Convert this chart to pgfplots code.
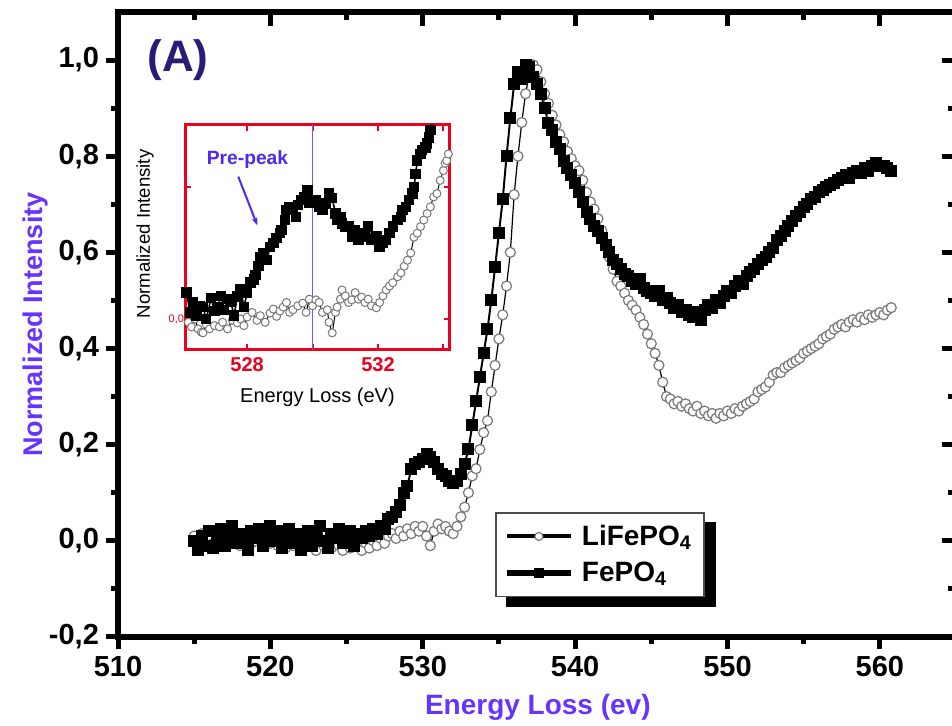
\documentclass[border=0pt]{standalone}
\usepackage{fontspec}
\setmainfont{Liberation Sans}
\usepackage{pgfplots}
\pgfplotsset{compat=1.18}
\usetikzlibrary{arrows.meta}
\pgfdeclarelayer{background}
\pgfsetlayers{background,main}

\definecolor{labelblue}{RGB}{102,51,255}
\definecolor{prepeak}{RGB}{80,40,240}
\definecolor{navyA}{RGB}{40,28,120}
\definecolor{insetred}{RGB}{235,0,30}
\definecolor{vline}{RGB}{110,90,250}
\definecolor{circgray}{RGB}{120,120,120}

\begin{document}
\begin{tikzpicture}
% main panel
\begin{axis}[
    at={(59pt,44.5pt)}, anchor=south west,
    scale only axis, width=419pt, height=312.5pt,
    xmin=510, xmax=565, ymin=-0.2, ymax=1.1,
    xtick={510,520,...,560}, minor x tick num=1,
    ytick={-0.2,0,...,1.0}, minor y tick num=1,
    xtick pos=left, ytick pos=left,
    tick align=outside,
    major tick length=6pt, minor tick length=3.5pt,
    every tick/.style={black, line width=2.5pt},
    axis line style={line width=3pt},
    tick label style={font=\bfseries\fontsize{14.5}{16}\selectfont, /pgf/number format/assume math mode=true},
    xticklabel style={/pgf/number format/.cd, fixed, precision=0, 1000 sep={}},
    yticklabel style={/pgf/number format/.cd, use comma, fixed, fixed zerofill, precision=1},
    xlabel={Energy Loss (ev)},
    ylabel={Normalized Intensity},
    xlabel style={at={(axis description cs:0.501,-0.112)}, anchor=center, text=labelblue, font=\bfseries\fontsize{14}{16}\selectfont},
    ylabel style={at={(axis description cs:-0.099,0.5)}, anchor=center, rotate=0, text=labelblue, font=\bfseries\fontsize{13.5}{16}\selectfont},
    legend style={name=leg, at={(0.45,0.2)}, anchor=north west, draw=black!70, line width=0.8pt, fill=white,
        font=\bfseries\fontsize{14}{16}\selectfont, inner xsep=4pt, inner ysep=4pt, row sep=3pt, column sep=2pt},
    legend cell align=left,
    legend image code/.code={
        \draw[#1, mark=none] (0pt,0pt) -- (32pt,0pt);
        \path[#1, draw=none] plot coordinates {(16pt,0pt)};},
]
\addlegendimage{black, line width=2pt, mark=*, mark size=2pt, mark options={fill=white, draw=circgray, line width=0.6pt}}
\addlegendentry{LiFePO\textsubscript{4}}
\addlegendimage{black, line width=3pt, mark=square*, mark size=2.2pt, mark options={fill=black, draw=black, line width=0.5pt}}
\addlegendentry{FePO\textsubscript{4}}

% LiFePO4
\addplot[forget plot, black, line width=0.6pt, mark=*, mark size=2.5pt, mark options={fill=white, draw=circgray, line width=0.6pt}] coordinates {
(515.0,0.01) (515.25,-0.01) (515.5,0.015) (515.75,0.0) (516.0,0.01) (516.25,-0.005) (516.5,0.005) (516.75,-0.01)
(517.0,0.01) (517.25,0.0) (517.5,-0.005) (517.75,0.01) (518.0,-0.01) (518.25,0.005) (518.5,0.015) (518.75,-0.005)
(519.0,0.0) (519.25,0.01) (519.5,-0.01) (519.75,0.005) (520.0,-0.005) (520.25,0.01) (520.5,-0.01) (520.75,0.0)
(521.0,-0.015) (521.25,0.005) (521.5,-0.01) (521.75,0.0) (522.0,-0.015) (522.25,-0.005) (522.5,0.005) (522.75,-0.01)
(523.0,-0.02) (523.25,0.0) (523.5,-0.01) (523.75,-0.005) (524.0,-0.015) (524.25,0.0) (524.5,-0.01) (524.75,-0.02)
(525.0,-0.005) (525.25,-0.015) (525.5,0.0) (525.75,-0.01) (526.0,-0.02) (526.25,-0.005) (526.5,-0.015) (526.75,0.0)
(527.0,-0.01) (527.25,0.005) (527.5,-0.005) (527.75,0.01) (528.0,0.015) (528.25,0.005) (528.5,0.02) (528.75,0.01)
(529.0,0.025) (529.25,0.015) (529.5,0.03) (529.75,0.02) (530.0,0.03) (530.25,0.01) (530.5,-0.01) (530.75,0.02)
(531.0,0.035) (531.25,0.025) (531.5,0.03) (531.75,0.02) (532.0,0.015) (532.25,0.03) (532.5,0.05) (532.75,0.07)
(533.0,0.10) (533.25,0.135) (533.5,0.15) (533.75,0.19) (534.0,0.225) (534.25,0.25) (534.5,0.31) (534.75,0.365)
(535.0,0.42) (535.25,0.47) (535.5,0.53) (535.75,0.60) (536.0,0.72) (536.25,0.80) (536.5,0.87) (536.75,0.93)
(537.0,0.97) (537.25,0.99) (537.5,0.98) (537.75,0.955) (538.0,0.93) (538.25,0.91) (538.5,0.885) (538.75,0.865)
(539.0,0.845) (539.25,0.83) (539.5,0.81) (539.75,0.795) (540.0,0.78) (540.25,0.77) (540.5,0.75) (540.75,0.725)
(541.0,0.705) (541.25,0.69) (541.5,0.67) (541.75,0.645) (542.0,0.615) (542.25,0.59) (542.5,0.565) (542.75,0.54)
(543.0,0.53) (543.25,0.515) (543.5,0.50) (543.75,0.49) (544.0,0.48) (544.25,0.465) (544.5,0.45) (544.75,0.43)
(545.0,0.41) (545.25,0.39) (545.5,0.365) (545.75,0.33) (546.0,0.30) (546.25,0.295) (546.5,0.285) (546.75,0.29)
(547.0,0.28) (547.25,0.285) (547.5,0.275) (547.75,0.27) (548.0,0.28) (548.25,0.265) (548.5,0.27) (548.75,0.26)
(549.0,0.265) (549.25,0.255) (549.5,0.265) (549.75,0.26) (550.0,0.27) (550.25,0.265) (550.5,0.275) (550.75,0.27)
(551.0,0.28) (551.25,0.285) (551.5,0.29) (551.75,0.295) (552.0,0.31) (552.25,0.315) (552.5,0.32) (552.75,0.33)
(553.0,0.345) (553.25,0.35) (553.5,0.35) (553.75,0.36) (554.0,0.365) (554.25,0.37) (554.5,0.375) (554.75,0.38)
(555.0,0.39) (555.25,0.395) (555.5,0.40) (555.75,0.405) (556.0,0.41) (556.25,0.42) (556.5,0.425) (556.75,0.43)
(557.0,0.44) (557.25,0.445) (557.5,0.45) (557.75,0.445) (558.0,0.455) (558.25,0.46) (558.5,0.455) (558.75,0.465)
(559.0,0.46) (559.25,0.47) (559.5,0.465) (559.75,0.47) (560.0,0.475) (560.25,0.47) (560.5,0.48) (560.75,0.485)
};

% FePO4
\addplot[forget plot, black, line width=1pt, mark=square*, mark size=2.5pt, mark options={fill=black, draw=black}] coordinates {
(515.0,0.00) (515.25,-0.02) (515.5,0.01) (515.75,-0.01) (516.0,0.02) (516.25,-0.015) (516.5,0.005) (516.75,0.025)
(517.0,-0.01) (517.25,0.01) (517.5,0.03) (517.75,-0.005) (518.0,0.015) (518.25,0.0) (518.5,-0.02) (518.75,0.02)
(519.0,0.005) (519.25,0.025) (519.5,-0.01) (519.75,0.01) (520.0,0.03) (520.25,0.0) (520.5,0.02) (520.75,-0.015)
(521.0,0.01) (521.25,0.025) (521.5,-0.005) (521.75,0.015) (522.0,-0.02) (522.25,0.005) (522.5,0.02) (522.75,-0.01)
(523.0,0.01) (523.25,0.03) (523.5,0.0) (523.75,-0.015) (524.0,0.015) (524.25,0.005) (524.5,0.025) (524.75,-0.005)
(525.0,0.01) (525.25,0.02) (525.5,-0.01) (525.75,0.015) (526.0,0.005) (526.25,0.02) (526.5,0.01) (526.75,0.025)
(527.0,0.015) (527.25,0.03) (527.5,0.025) (527.75,0.045) (528.0,0.05) (528.25,0.06) (528.5,0.075) (528.75,0.10)
(529.0,0.115) (529.25,0.15) (529.5,0.16) (529.75,0.165) (530.0,0.17) (530.25,0.18) (530.5,0.175) (530.75,0.165)
(531.0,0.15) (531.25,0.14) (531.5,0.135) (531.75,0.125) (532.0,0.12) (532.25,0.125) (532.5,0.14) (532.75,0.16)
(533.0,0.19) (533.25,0.24) (533.5,0.29) (533.75,0.34) (534.0,0.39) (534.25,0.44) (534.5,0.50) (534.75,0.57)
(535.0,0.64) (535.25,0.71) (535.5,0.80) (535.75,0.88) (536.0,0.95) (536.25,0.975) (536.5,0.96) (536.75,0.99)
(537.0,0.985) (537.25,0.965) (537.5,0.95) (537.75,0.93) (538.0,0.90) (538.25,0.87) (538.5,0.855) (538.75,0.83)
(539.0,0.815) (539.25,0.79) (539.5,0.775) (539.75,0.76) (540.0,0.745) (540.25,0.725) (540.5,0.705) (540.75,0.685)
(541.0,0.67) (541.25,0.655) (541.5,0.645) (541.75,0.63) (542.0,0.615) (542.25,0.60) (542.5,0.585) (542.75,0.575)
(543.0,0.565) (543.25,0.555) (543.5,0.55) (543.75,0.54) (544.0,0.535) (544.25,0.545) (544.5,0.525) (544.75,0.52)
(545.0,0.515) (545.25,0.51) (545.5,0.52) (545.75,0.50) (546.0,0.505) (546.25,0.495) (546.5,0.485) (546.75,0.49)
(547.0,0.475) (547.25,0.48) (547.5,0.47) (547.75,0.465) (548.0,0.475) (548.25,0.46) (548.5,0.48) (548.75,0.49)
(549.0,0.485) (549.25,0.50) (549.5,0.495) (549.75,0.51) (550.0,0.52) (550.25,0.515) (550.5,0.53) (550.75,0.54)
(551.0,0.535) (551.25,0.55) (551.5,0.56) (551.75,0.565) (552.0,0.575) (552.25,0.585) (552.5,0.59) (552.75,0.60)
(553.0,0.61) (553.25,0.625) (553.5,0.635) (553.75,0.645) (554.0,0.655) (554.25,0.665) (554.5,0.675) (554.75,0.685)
(555.0,0.695) (555.25,0.70) (555.5,0.71) (555.75,0.715) (556.0,0.725) (556.25,0.73) (556.5,0.735) (556.75,0.74)
(557.0,0.745) (557.25,0.75) (557.5,0.755) (557.75,0.76) (558.0,0.755) (558.25,0.765) (558.5,0.77) (558.75,0.765)
(559.0,0.775) (559.25,0.77) (559.5,0.78) (559.75,0.785) (560.0,0.78) (560.25,0.78) (560.5,0.775) (560.75,0.77)
};

\node[font=\bfseries\fontsize{22}{24}\selectfont, text=navyA] at (axis description cs:0.0716,0.923) {(A)};
\end{axis}

% legend shadow, behind everything
\begin{pgfonlayer}{background}
\fill[black] ([shift={(5.5pt,-5pt)}]leg.south west) rectangle ([shift={(5.5pt,-5pt)}]leg.north east);
\end{pgfonlayer}

% inward ticks on top and right
\begin{axis}[
    at={(59pt,44.5pt)}, anchor=south west,
    scale only axis, width=419pt, height=312.5pt,
    xmin=510, xmax=565, ymin=-0.2, ymax=1.1,
    xtick={510,520,...,560}, minor x tick num=1,
    ytick={-0.2,0,...,1.0}, minor y tick num=1,
    xtick pos=right, ytick pos=right,
    tick align=inside,
    major tick length=7pt, minor tick length=4pt,
    every tick/.style={black, line width=2.5pt},
    axis line style={line width=3pt},
    xticklabels={}, yticklabels={},
]
\end{axis}

% inset
\begin{axis}[
    at={(92.5pt,188pt)}, anchor=south west,
    scale only axis, width=132.5pt, height=112.5pt,
    xmin=526.1, xmax=534.2, ymin=-0.047, ymax=0.294,
    axis background/.style={fill=white},
    axis line style={insetred, line width=1.5pt},
    xtick={528,530,532,534}, xticklabels={528,,532,},
    ytick={0,0.2}, yticklabels={0{,}0,},
    tick align=inside, major tick length=3pt,
    every tick/.style={insetred, line width=1pt},
    xtick pos=both, ytick pos=both,
    xticklabel style={text=insetred, font=\bfseries\fontsize{10}{12}\selectfont},
    yticklabel style={text=insetred, font=\fontsize{5.5}{6}\selectfont, xshift=3pt},
    xlabel={Energy Loss (eV)},
    ylabel={Normalized Intensity},
    xlabel style={at={(axis description cs:0.5,-0.209)}, anchor=center, font=\fontsize{10}{12}\selectfont},
    ylabel style={at={(axis description cs:-0.151,0.516)}, anchor=center, rotate=0, font=\fontsize{9.3}{11}\selectfont},
]
\addplot[black, line width=0.5pt, mark=*, mark size=2pt, mark options={fill=white, draw=circgray, line width=0.5pt}] coordinates {
(526.2,-0.005) (526.3,-0.012) (526.4,0.0) (526.5,-0.015) (526.6,-0.02) (526.65,-0.021) (526.75,-0.008) (526.85,-0.015)
(527.0,-0.01) (527.15,-0.012) (527.25,-0.005) (527.4,-0.015) (527.55,-0.002) (527.7,-0.006) (527.8,0.0) (527.9,-0.01)
(528.0,0.003) (528.15,0.01) (528.3,-0.002) (528.4,0.005) (528.55,-0.005) (528.7,0.009) (528.8,0.015) (528.9,0.004)
(529.0,0.012) (529.1,0.018) (529.2,0.025) (529.3,0.01) (529.4,0.014) (529.55,0.02) (529.7,0.024) (529.8,0.01)
(529.9,0.03) (530.0,0.02) (530.1,0.029) (530.2,0.025) (530.3,0.01) (530.45,0.014) (530.5,-0.005) (530.6,-0.021)
(530.7,0.01) (530.75,0.018) (530.85,0.03) (530.9,0.044) (531.0,0.035) (531.1,0.025) (531.2,0.029) (531.3,0.04)
(531.4,0.03) (531.5,0.033) (531.6,0.025) (531.7,0.03) (531.8,0.02) (531.95,0.017) (532.05,0.025) (532.15,0.035)
(532.25,0.044) (532.35,0.05) (532.45,0.055) (532.6,0.064) (532.7,0.07) (532.8,0.08) (532.9,0.089) (533.0,0.1)
(533.1,0.124) (533.2,0.13) (533.3,0.14) (533.4,0.15) (533.5,0.16) (533.6,0.17) (533.7,0.185) (533.8,0.19)
(533.9,0.21) (534.0,0.225) (534.05,0.236) (534.1,0.24) (534.15,0.25)
};
\addplot[black, line width=0.8pt, mark=square*, mark size=2.2pt, mark options={fill=black, draw=black}] coordinates {
(526.15,0.04) (526.25,0.01) (526.35,0.025) (526.45,0.005) (526.55,0.02) (526.65,0.018) (526.75,0.0) (526.9,0.032)
(527.0,0.012) (527.1,0.018) (527.2,0.035) (527.3,0.014) (527.4,0.03) (527.5,0.026) (527.6,0.005) (527.7,0.034)
(527.8,0.045) (527.9,0.018) (528.0,0.04) (528.1,0.055) (528.2,0.06) (528.25,0.067) (528.35,0.08) (528.4,0.094)
(528.5,0.1) (528.6,0.089) (528.7,0.109) (528.8,0.115) (528.9,0.123) (529.0,0.13) (529.05,0.135) (529.15,0.15)
(529.2,0.165) (529.3,0.17) (529.4,0.165) (529.5,0.155) (529.55,0.173) (529.65,0.18) (529.75,0.185) (529.85,0.195)
(529.9,0.176) (530.0,0.178) (530.1,0.18) (530.2,0.17) (530.3,0.165) (530.4,0.175) (530.5,0.19) (530.6,0.183)
(530.7,0.16) (530.75,0.15) (530.85,0.155) (530.9,0.145) (531.0,0.14) (531.1,0.14) (531.2,0.125) (531.3,0.135)
(531.4,0.12) (531.5,0.13) (531.6,0.125) (531.7,0.14) (531.8,0.12) (531.95,0.125) (532.05,0.11) (532.15,0.115)
(532.25,0.12) (532.35,0.13) (532.45,0.14) (532.6,0.15) (532.7,0.155) (532.75,0.165) (532.85,0.17) (532.95,0.18)
(533.05,0.19) (533.1,0.2) (533.15,0.22) (533.2,0.24) (533.3,0.25) (533.35,0.256) (533.45,0.26) (533.5,0.266)
(533.55,0.275) (533.6,0.286) (533.65,0.297)
};
\draw[vline, line width=0.6pt] (axis cs:530,-0.047) -- (axis cs:530,0.294);
\node[text=prepeak, font=\bfseries\fontsize{9.6}{11}\selectfont] at (axis cs:528.01,0.241) {Pre-peak};
\draw[prepeak, line width=1pt, -{Stealth[length=4pt,width=3pt]}] (axis cs:527.73,0.2156) -- (axis cs:528.31,0.142);
\end{axis}

\pgfresetboundingbox
\useasboundingbox (0pt,0pt) rectangle (476pt,363pt);
\end{tikzpicture}
\end{document}
